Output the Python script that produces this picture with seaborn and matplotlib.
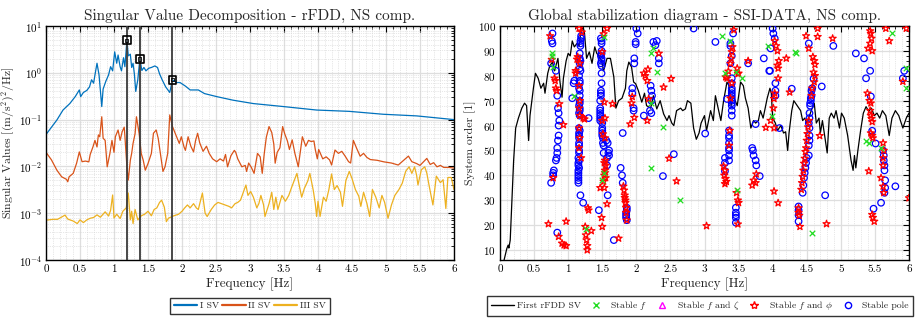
import numpy as np
import pandas as pd
import matplotlib
matplotlib.use("Agg")
import matplotlib.pyplot as plt
from matplotlib.lines import Line2D
from matplotlib.ticker import MultipleLocator, LogLocator, NullFormatter, FuncFormatter
import seaborn as sns

# ── Singular values (rFDD) ────────────────────────────────────────
sv1_f = [0.0, 0.16, 0.25, 0.35, 0.43, 0.49, 0.51, 0.55, 0.60, 0.64, 0.67, 0.70, 0.72, 0.75, 0.78,
         0.82, 0.84, 0.88, 0.92, 0.95, 0.98, 1.01, 1.04, 1.06, 1.09, 1.11, 1.14, 1.16, 1.19, 1.21,
         1.24, 1.26, 1.28, 1.30, 1.32, 1.35, 1.38, 1.41, 1.44, 1.47, 1.51, 1.55, 1.60, 1.64, 1.67,
         1.71, 1.76, 1.82, 1.86, 1.92, 1.97, 2.05, 2.12, 2.24, 2.33, 2.51, 2.75, 3.05, 3.49, 3.98,
         4.46, 4.96, 5.45, 6.0]
sv1_v = [0.048, 0.098, 0.16, 0.22, 0.31, 0.43, 0.31, 0.38, 0.42, 0.50, 0.71, 0.60, 0.9, 1.6, 0.9,
         0.19, 0.45, 0.66, 0.9, 1.35, 1.1, 2.8, 1.6, 2.4, 1.35, 1.1, 2.1, 1.35, 5.0, 2.3,
         2.5, 1.3, 1.6, 0.93, 0.40, 0.71, 1.97, 1.12, 1.3, 1.1, 1.25, 1.3, 1.4, 1.3, 0.95,
         0.7, 0.5, 0.38, 0.71, 0.62, 0.62, 0.52, 0.43, 0.43, 0.36, 0.31, 0.26, 0.22, 0.19, 0.16,
         0.15, 0.13, 0.12, 0.10]

sv2_f = [0.0, 0.08, 0.16, 0.23, 0.30, 0.32, 0.34, 0.40, 0.45, 0.49, 0.53, 0.58, 0.63, 0.65, 0.69,
         0.72, 0.75, 0.77, 0.79, 0.82, 0.84, 0.87, 0.90, 0.94, 0.97, 1.00, 1.02, 1.06, 1.09, 1.12,
         1.15, 1.16, 1.19, 1.21, 1.24, 1.26, 1.28, 1.31, 1.33, 1.37, 1.40, 1.43, 1.46, 1.50, 1.55,
         1.58, 1.62, 1.65, 1.68, 1.72, 1.75, 1.79, 1.82, 1.86, 1.91, 1.96, 1.99, 2.03, 2.05, 2.09,
         2.13, 2.17, 2.20, 2.23, 2.26, 2.31, 2.36, 2.40, 2.45, 2.51, 2.56, 2.61, 2.64, 2.67, 2.72,
         2.77, 2.79, 2.82, 2.88, 2.93, 2.95, 2.98, 3.02, 3.06, 3.11, 3.15, 3.18, 3.21, 3.24, 3.28,
         3.32, 3.35, 3.37, 3.40, 3.44, 3.48, 3.51, 3.55, 3.58, 3.62, 3.66, 3.71, 3.77, 3.82, 3.86,
         3.90, 3.94, 3.96, 3.99, 4.01, 4.07, 4.12, 4.17, 4.20, 4.25, 4.30, 4.35, 4.40, 4.45, 4.48,
         4.52, 4.57, 4.62, 4.67, 4.72, 4.77, 4.87, 4.97, 5.08, 5.18, 5.33, 5.38, 5.45, 5.50, 5.60,
         5.65, 5.70, 5.75, 5.80, 5.85, 5.93, 6.0]
sv2_v = [0.02, 0.0138, 0.0083, 0.006, 0.0053, 0.0047, 0.006, 0.0071, 0.0117, 0.0204, 0.0126, 0.013,
         0.0125, 0.018, 0.026, 0.036, 0.026, 0.047, 0.043, 0.115, 0.04, 0.036, 0.0098, 0.019, 0.036,
         0.02, 0.043, 0.06, 0.036, 0.055, 0.069, 0.045, 0.0098, 0.0051, 0.0135, 0.019, 0.031, 0.05,
         0.115, 0.05, 0.019, 0.0135, 0.0083, 0.0115, 0.019, 0.051, 0.06, 0.04, 0.02, 0.0078, 0.0098,
         0.019, 0.126, 0.071, 0.047, 0.031, 0.043, 0.026, 0.022, 0.043, 0.027, 0.0204, 0.036, 0.051,
         0.032, 0.021, 0.027, 0.019, 0.0145, 0.0126, 0.0145, 0.013, 0.018, 0.0098, 0.017, 0.022,
         0.02, 0.0145, 0.0098, 0.0105, 0.0078, 0.0118, 0.0095, 0.0071, 0.019, 0.016, 0.0071, 0.019,
         0.042, 0.071, 0.053, 0.03, 0.0117, 0.02, 0.025, 0.071, 0.05, 0.035, 0.023, 0.037, 0.019,
         0.0098, 0.043, 0.027, 0.036, 0.034, 0.035, 0.023, 0.0145, 0.023, 0.0145, 0.016, 0.0138,
         0.0107, 0.0224, 0.019, 0.021, 0.0165, 0.0126, 0.0118, 0.036, 0.024, 0.0165, 0.019, 0.0155,
         0.014, 0.0135, 0.0125, 0.0118, 0.0107, 0.0166, 0.0126, 0.0115, 0.0105, 0.0148, 0.011,
         0.012, 0.0098, 0.0105, 0.0095, 0.0095, 0.0092]

sv3_f = [0.0, 0.10, 0.17, 0.28, 0.32, 0.40, 0.46, 0.50, 0.55, 0.60, 0.65, 0.70, 0.75, 0.80, 0.87,
         0.92, 0.95, 0.98, 1.00, 1.04, 1.09, 1.13, 1.18, 1.21, 1.24, 1.26, 1.28, 1.31, 1.35, 1.40,
         1.45, 1.50, 1.55, 1.59, 1.63, 1.67, 1.70, 1.74, 1.77, 1.80, 1.87, 1.95, 2.00, 2.04, 2.08,
         2.12, 2.17, 2.21, 2.24, 2.30, 2.34, 2.37, 2.43, 2.48, 2.53, 2.58, 2.63, 2.69, 2.73, 2.78,
         2.82, 2.86, 2.94, 2.97, 3.01, 3.05, 3.10, 3.13, 3.16, 3.20, 3.22, 3.28, 3.32, 3.35, 3.38,
         3.41, 3.47, 3.52, 3.57, 3.61, 3.69, 3.72, 3.76, 3.80, 3.85, 3.88, 3.93, 3.96, 3.98, 4.00,
         4.03, 4.08, 4.12, 4.16, 4.20, 4.24, 4.28, 4.33, 4.36, 4.41, 4.46, 4.50, 4.55, 4.60, 4.63,
         4.67, 4.72, 4.76, 4.80, 4.85, 4.90, 4.94, 4.98, 5.03, 5.08, 5.13, 5.19, 5.24, 5.29, 5.34,
         5.38, 5.42, 5.45, 5.47, 5.52, 5.57, 5.60, 5.64, 5.69, 5.74, 5.80, 5.84, 5.88, 5.91, 5.96,
         6.0]
sv3_v = [0.00071, 0.00074, 0.00074, 0.00091, 0.00075, 0.00068, 0.0006, 0.00072, 0.00063, 0.00072,
         0.00078, 0.00081, 0.00092, 0.00082, 0.00107, 0.00087, 0.00115, 0.00245, 0.00079, 0.00095,
         0.00077, 0.0011, 0.0013, 0.0027, 0.00072, 0.0011, 0.0006, 0.0012, 0.00072, 0.00088,
         0.00095, 0.0011, 0.00088, 0.0012, 0.0013, 0.0017, 0.0019, 0.00135, 0.00066, 0.00078,
         0.00087, 0.00095, 0.0011, 0.0013, 0.0015, 0.0013, 0.0016, 0.0013, 0.0012, 0.0027, 0.001,
         0.00085, 0.0012, 0.0015, 0.0017, 0.0016, 0.0015, 0.0014, 0.0013, 0.0016, 0.0017, 0.0019,
         0.0040, 0.0024, 0.0029, 0.0022, 0.0013, 0.0016, 0.0024, 0.0015, 0.00085, 0.0016, 0.0028,
         0.0012, 0.0022, 0.0012, 0.0024, 0.0018, 0.0024, 0.0035, 0.0071, 0.0042, 0.0022, 0.0034,
         0.0049, 0.0071, 0.0031, 0.0016, 0.00085, 0.0018, 0.00085, 0.0022, 0.0018, 0.0032, 0.0069,
         0.0032, 0.0039, 0.0028, 0.0014, 0.005, 0.0078, 0.0055, 0.0032, 0.0023, 0.0014, 0.0028,
         0.0016, 0.00085, 0.0032, 0.0022, 0.0013, 0.0024, 0.0017, 0.00078, 0.0015, 0.0024, 0.0032,
         0.0044, 0.0079, 0.0098, 0.0071, 0.0098, 0.0065, 0.004, 0.0085, 0.0098, 0.0072, 0.0035,
         0.0015, 0.0062, 0.0045, 0.0052, 0.00126, 0.0058, 0.0058, 0.0032]

peak_f = [1.19, 1.38, 1.86]
peak_v = [5.0, 1.97, 0.71]

# ── Stabilization diagram (SSI-DATA) ──────────────────────────────
line_f = [0.03, 0.06, 0.10, 0.12, 0.13, 0.15, 0.17, 0.20, 0.23, 0.27, 0.32, 0.36, 0.39, 0.42, 0.44,
          0.49, 0.52, 0.56, 0.60, 0.64, 0.66, 0.70, 0.73, 0.77, 0.80, 0.85, 0.88, 0.91, 0.93, 0.97,
          1.00, 1.03, 1.06, 1.09, 1.13, 1.16, 1.19, 1.22, 1.24, 1.27, 1.31, 1.35, 1.39, 1.42, 1.45,
          1.49, 1.52, 1.57, 1.62, 1.67, 1.70, 1.74, 1.79, 1.84, 1.86, 1.89, 1.93, 1.96, 1.99, 2.03,
          2.08, 2.12, 2.15, 2.21, 2.25, 2.30, 2.35, 2.40, 2.45, 2.48, 2.52, 2.55, 2.59, 2.65, 2.68,
          2.72, 2.75, 2.80, 2.84, 2.88, 2.92, 2.95, 3.00, 3.03, 3.09, 3.13, 3.16, 3.20, 3.24, 3.28,
          3.33, 3.36, 3.39, 3.42, 3.48, 3.53, 3.57, 3.60, 3.64, 3.68, 3.72, 3.75, 3.79, 3.82, 3.86,
          3.92, 3.96, 3.98, 4.00, 4.04, 4.07, 4.12, 4.16, 4.19, 4.22, 4.24, 4.28, 4.31, 4.36, 4.41,
          4.44, 4.47, 4.50, 4.54, 4.58, 4.61, 4.64, 4.68, 4.70, 4.73, 4.80, 4.83, 4.86, 4.90, 4.93,
          4.98, 5.01, 5.05, 5.10, 5.15, 5.18, 5.20, 5.22, 5.25, 5.29, 5.33, 5.37, 5.41, 5.45, 5.49,
          5.53, 5.57, 5.61, 5.66, 5.71, 5.75, 5.80, 5.85, 5.91, 5.96, 6.0]
line_n = [3, 6, 10.6, 12, 10.8, 14, 27, 46, 59, 63, 67, 69, 68, 54, 64,
          75, 81, 79, 75, 77, 73, 81, 84, 85.5, 82, 87, 77.5, 71.4, 79, 86,
          89, 88, 94, 91.6, 93, 92, 98.4, 99.7, 97, 87, 89.6, 85, 91.6, 89, 88,
          86, 82, 87, 87, 79.5, 67, 70, 71, 75, 82, 85.5, 83.5, 77.5, 76.8, 74,
          69.4, 73, 68, 67, 72, 66.7, 70, 64.7, 62, 64, 61, 60, 66, 67, 66,
          66.7, 70, 69, 59, 54.5, 57, 61, 64, 58, 66, 62, 72, 67, 62, 70,
          77.5, 76, 68, 72, 68, 77.5, 76, 71, 67, 59, 62, 61, 62, 66, 63,
          71, 75, 73, 63, 61, 58, 60, 57, 57.5, 50, 57, 66, 70, 68, 66,
          62, 63, 61, 64, 67, 69, 61, 63, 57, 62, 49, 63, 65, 63, 66,
          59, 65, 63, 56, 46, 42, 48, 43, 50, 58, 65, 67.6, 65.7, 67, 64,
          65, 63, 66, 64, 56, 63, 66, 64, 59, 63, 65]

# stable f (green x)
sf_f = [0.76, 0.77, 0.78, 1.09, 1.52, 1.26, 1.50, 1.53, 2.22, 2.24, 2.31, 2.22, 2.39, 2.22, 2.64,
        3.26, 3.38, 3.46, 3.55, 3.30, 3.47, 3.93, 3.99, 4.33, 4.34, 4.57, 5.37, 5.42, 5.59, 5.75,
        5.96, 5.96]
sf_n = [89, 88, 83.5, 72, 95.7, 18.5, 38, 41, 89, 91, 81.5, 69, 59.5, 43, 30,
        96, 94, 81.5, 79, 81, 34, 92, 64, 89.5, 89, 17, 54, 53, 51, 97,
        83, 75]

# stable f and zeta (none found)
sfz_f = []
sfz_n = []

# stable f and phi (red stars)
sfp_f = [0.735, 0.76, 0.80, 0.81, 0.82, 0.83, 0.87, 0.93, 0.78, 0.71, 0.86, 0.91, 0.94, 0.97, 0.97,
         1.16, 1.20, 1.14, 1.13, 1.11, 1.11, 1.17, 1.16, 1.17, 1.16, 1.17, 1.16, 1.17, 1.16, 1.19,
         1.24, 1.22, 1.25, 1.26, 1.27, 1.28, 1.28, 1.29, 1.30, 1.34,
         1.57, 1.52, 1.50, 1.53, 1.54, 1.50, 1.51, 1.54, 1.54, 1.53, 1.55, 1.54, 1.54, 1.53, 1.55,
         1.52, 1.53, 1.47, 1.57, 1.49, 1.50, 1.65, 1.74,
         1.81, 1.82, 1.83, 1.83, 1.84, 1.84, 1.85, 1.85, 1.86, 1.91, 1.94, 1.93, 1.97,
         2.11, 2.13, 2.17, 2.16, 2.18, 2.16, 2.33, 2.40, 2.51, 2.48, 2.59, 3.03,
         3.43, 3.41, 3.40, 3.39, 3.38, 3.35, 3.33, 3.31, 3.48, 3.50, 3.49, 3.40, 3.38, 3.37, 3.36,
         3.28, 3.30, 3.29, 3.31, 3.30, 3.32, 3.47, 3.49, 3.50, 3.49, 3.64,
         3.76, 3.72, 3.70, 3.75, 3.90, 3.97, 4.02, 4.02, 4.01, 4.03, 4.07, 4.09, 4.08, 4.08, 4.03,
         4.05, 4.07, 4.20, 4.25, 4.08, 4.02,
         4.49, 4.66, 4.66, 4.53, 4.59, 4.62, 4.61, 4.60, 4.62, 4.61, 4.58, 4.57, 4.53, 4.52, 4.51,
         4.50, 4.49, 4.48, 4.47, 4.46, 4.45, 4.44, 4.43, 4.42, 4.38, 4.38, 4.39, 4.40, 4.69, 4.79,
         4.88,
         5.43, 5.44, 5.45, 5.43, 5.40, 5.46, 5.39, 5.42, 5.44, 5.43, 5.44, 5.45, 5.46, 5.44, 5.46,
         5.47, 5.41, 5.59, 5.62, 5.63, 5.62, 5.63, 5.62, 5.62, 5.46, 5.47, 5.49, 5.66, 5.71, 5.96,
         5.91, 6.0]
sfp_n = [96, 86.5, 79, 78, 75, 74, 68.7, 60.3, 39, 20.5, 15.4, 12.7, 12, 11.7, 21.5,
         99, 97.5, 87.6, 86.6, 82, 81, 85, 76, 70, 67, 64, 59, 55, 51, 47,
         62.6, 63, 19.4, 16, 14, 11.7, 10, 26.9, 26, 17.7,
         99, 96.8, 89.6, 69.4, 63, 62, 56.6, 55, 46, 45, 44, 42, 41, 40, 39,
         37.6, 35, 35, 28.5, 23, 19.4, 68.7, 14.7,
         35.6, 34, 32, 31, 30, 29, 27, 25, 22, 60.6, 71.6, 69, 63.2,
         81, 80, 82.6, 78, 70.7, 62, 89, 75.4, 78.8, 46.8, 37.7, 19.7,
         98.4, 91.6, 89.6, 87, 84.9, 81.8, 79, 79.5, 83, 81, 80.8, 77, 71, 58, 52,
         43.7, 42, 40, 38.7, 36.6, 37.5, 33, 30, 29, 20.4, 86,
         40.5, 38, 36, 37, 59.2, 62, 59, 70.8, 67, 73, 84.2, 86, 83, 79, 94,
         92, 90, 87, 73.4, 28.9, 33.6,
         96, 99, 95.7, 91, 87.6, 84.5, 86, 81.4, 80, 77.5, 75, 72, 62, 59.4, 56.7,
         54, 51, 49.5, 46.8, 44.8, 42, 39.5, 37, 34.3, 26.9, 25, 23.9, 19.4, 55.9, 20.5,
         95,
         98, 97, 95, 93, 91, 90, 73, 70, 69, 66, 64, 62.8, 61.5, 57, 56,
         55, 41.7, 39, 35.6, 33, 53, 50, 47, 44, 24.2, 23, 21.5, 99, 94, 99,
         77.7, 30.9]

# stable poles (blue circles)
pole_f = [0.77, 0.76, 0.77, 0.75, 0.82, 0.84, 0.85, 0.86, 0.87, 0.86, 0.86, 0.85, 0.84, 0.84, 0.83,
          0.82, 0.79, 0.78, 0.78, 0.75, 0.84,
          1.09, 1.08, 1.06,
          1.19, 1.19, 1.18, 1.18, 1.18, 1.17, 1.17, 1.18, 1.17, 1.17, 1.18, 1.16, 1.17, 1.17, 1.16,
          1.17, 1.17, 1.17, 1.17, 1.16, 1.17, 1.17, 1.16, 1.17, 1.16, 1.17, 1.16, 1.16, 1.16, 1.16,
          1.16, 1.16, 1.16, 1.15, 1.16, 1.15, 1.15, 1.16, 1.15, 1.15, 1.15, 1.15, 1.15, 1.15,
          1.18, 1.22, 1.30,
          1.48, 1.49, 1.49, 1.49, 1.49, 1.48, 1.49, 1.49, 1.48, 1.49, 1.49, 1.49, 1.48, 1.48, 1.48,
          1.47, 1.47, 1.47, 1.47, 1.47, 1.47, 1.47, 1.50, 1.50, 1.50, 1.50, 1.50, 1.51, 1.51, 1.52,
          1.52, 1.56, 1.58, 1.60, 1.59, 1.60, 1.57, 1.57, 1.58, 1.45, 1.67,
          1.77, 1.79, 1.80, 1.86, 1.86, 1.85, 1.85, 1.85, 1.86, 1.80,
          2.00, 2.02, 1.99, 1.99, 1.97, 1.97, 1.94, 1.94, 1.96, 1.96, 2.11, 2.25, 2.28, 2.30, 2.33,
          2.33, 2.21, 2.22, 2.23, 2.22, 2.20, 2.22, 2.55, 2.39, 2.84, 3.16, 3.01,
          3.42, 3.38, 3.38, 3.40, 3.38, 3.40, 3.40, 3.40, 3.40, 3.40, 3.40, 3.40, 3.40, 3.40, 3.40,
          3.40, 3.40, 3.33, 3.36, 3.36, 3.36, 3.36, 3.36, 3.36, 3.36, 3.36, 3.30, 3.30, 3.30,
          3.46, 3.46, 3.46, 3.46, 3.46,
          3.64, 3.75, 3.70, 3.71, 3.72, 3.75, 3.76, 3.81, 3.87, 3.95,
          4.00, 4.01, 4.03, 3.97, 3.96, 4.04, 4.04, 4.04, 4.10, 4.28,
          4.53, 4.60, 4.58, 4.57, 4.57, 4.56, 4.56, 4.55, 4.55, 4.54, 4.54, 4.53, 4.54, 4.54, 4.54,
          4.53, 4.53, 4.50, 4.49, 4.48, 4.47, 4.46, 4.45, 4.44, 4.38, 4.38, 4.38, 4.38, 4.77, 4.72,
          4.89,
          5.22, 5.34, 5.43, 5.37, 5.44, 5.46, 5.51, 5.62, 5.63, 5.63, 5.64, 5.64, 5.65, 5.65, 5.64,
          5.59, 5.48, 5.80, 5.91, 5.93]
pole_n = [97, 94, 93, 85, 82, 72, 67, 65, 62, 60, 56, 54, 51, 49, 47,
          46, 42, 41, 40, 37, 17,
          78, 77, 71,
          96, 95, 94, 93, 92, 89, 87, 86, 85, 83, 82, 80, 78, 77, 75,
          74, 72, 70, 69, 68, 67, 66, 65, 64, 59, 58, 57, 56, 55, 53,
          52, 50, 49, 47, 46, 45, 44, 43, 42, 41, 40, 39, 38, 37,
          32, 29, 63,
          95, 94, 93, 90, 89, 88, 87, 86, 85, 84, 81, 77, 74, 73, 72,
          70, 67, 66, 65, 64, 63, 62, 61, 59, 58, 57, 56, 55, 53, 52,
          49, 54, 53, 50, 49, 48, 47, 44, 32, 26, 14,
          43, 40, 37, 27, 26, 25, 24, 23, 22, 57,
          99, 97, 93.6, 92.7, 87, 85, 75, 73, 67, 66, 64, 93.6, 92.3, 94, 87,
          85, 76, 74, 72, 70, 66, 65, 48.5, 39.7, 99, 93.6, 56.8,
          97, 93, 92, 88, 85, 79, 77, 75, 74, 73, 72, 71, 70, 69, 68,
          66, 64, 70.7, 58, 56, 55, 53, 51, 50, 48, 46, 47, 45, 41.7,
          27, 25, 24, 23, 21,
          85, 60.6, 51, 50, 48, 46, 44, 39.7, 87, 82,
          99, 97, 95, 91, 82, 77, 74, 72, 59, 74.8,
          93, 78.8, 75, 74, 72, 71, 70, 69, 68, 65, 63, 61, 59, 56, 54,
          52, 48, 47, 45, 43, 41, 39, 36, 33, 27.5, 26, 24, 21.5, 32, 75.7,
          92,
          89, 87, 82, 79, 71.7, 57.9, 52.8, 50, 48, 46, 44, 42, 38, 35, 33,
          29, 26.6, 35.6, 79, 82]

blue = "#0072BD"
orange = "#D95319"
yellow = "#EDB120"

# ── Style ─────────────────────────────────────────────────────────
sns.set_style("white")
plt.rcParams["font.family"] = ["cmr10", "DejaVu Serif"]
plt.rcParams["mathtext.fontset"] = "cm"
plt.rcParams["axes.formatter.use_mathtext"] = True
plt.rcParams["axes.unicode_minus"] = False
plt.rcParams["xtick.direction"] = "in"
plt.rcParams["ytick.direction"] = "in"

fig = plt.figure(figsize=(9.16, 3.2), dpi=100)
ax1 = fig.add_axes([46 / 916, 1 - 260 / 320, 408 / 916, 234 / 320])
ax2 = fig.add_axes([500 / 916, 1 - 260 / 320, 409 / 916, 234 / 320])

hz_fmt = FuncFormatter(lambda v, _: f"{v:g}")


def style_axes(ax):
    ax.grid(True, which="major", color="#dedede", linewidth=0.9, linestyle="-")
    ax.grid(True, which="minor", color="#d0d0d0", linewidth=0.5, linestyle=":")
    ax.set_axisbelow(True)
    for sp in ax.spines.values():
        sp.set_color("black")
        sp.set_linewidth(1.0)
    ax.tick_params(which="both", top=True, right=True, labelsize=8, colors="black", pad=3)
    ax.tick_params(which="major", length=4, width=0.8)
    ax.tick_params(which="minor", length=2, width=0.6)


leg_kw = dict(loc="center", fontsize=7, frameon=True, fancybox=False, edgecolor="black",
              handlelength=2.4, handletextpad=0.3, columnspacing=0.3, borderpad=0.4)

# ── 1. Singular values ────────────────────────────────────────────
for fv, vv, col in [(sv1_f, sv1_v, blue), (sv2_f, sv2_v, orange), (sv3_f, sv3_v, yellow)]:
    sns.lineplot(x=fv, y=vv, ax=ax1, color=col, linewidth=0.9, estimator=None, sort=False)
ax1.set_yscale("log")
for pf in peak_f:
    ax1.axvline(pf, color="#3a3a3a", linewidth=1.3, zorder=3)
sns.scatterplot(x=peak_f, y=peak_v, ax=ax1, marker="s", s=30, facecolor="none",
                edgecolor="black", linewidth=1.2, zorder=5)
sns.scatterplot(x=peak_f, y=peak_v, ax=ax1, marker="s", s=5, facecolor="none",
                edgecolor="black", linewidth=0.6, zorder=5)
ax1.set_xlim(0, 6)
ax1.set_ylim(1e-4, 10)
ax1.xaxis.set_major_locator(MultipleLocator(0.5))
ax1.xaxis.set_minor_locator(MultipleLocator(0.1))
ax1.xaxis.set_major_formatter(hz_fmt)
ax1.yaxis.set_major_locator(LogLocator(base=10, numticks=10))
ax1.yaxis.set_minor_locator(LogLocator(base=10, subs=np.arange(2, 10), numticks=50))
ax1.yaxis.set_minor_formatter(NullFormatter())
style_axes(ax1)
ax1.set_title("Singular Value Decomposition - rFDD, NS comp.", fontsize=11, pad=4)
ax1.set_xlabel("Frequency [Hz]", fontsize=9.5, labelpad=3)
ax1.set_ylabel(r"Singular Values [(m/s$^2$)$^2$/Hz]", fontsize=8.5, labelpad=1)

h1 = [Line2D([], [], color=c, linewidth=1.6) for c in (blue, orange, yellow)]
fig.legend(h1, ["I SV", "II SV", "III SV"], bbox_to_anchor=(250 / 916, 1 - 306 / 320),
           ncol=3, **leg_kw)

# ── 2. Stabilization diagram ──────────────────────────────────────
sns.lineplot(x=line_f, y=line_n, ax=ax2, color="black", linewidth=0.9, estimator=None, sort=False)
sns.scatterplot(x=pole_f, y=pole_n, ax=ax2, marker="o", s=22, facecolor="none",
                edgecolor="blue", linewidth=0.9, zorder=3)
sns.scatterplot(x=sfp_f, y=sfp_n, ax=ax2, marker="*", s=28, facecolor="none",
                edgecolor="red", linewidth=0.9, zorder=4)
sns.scatterplot(x=sf_f, y=sf_n, ax=ax2, marker="x", s=16, color="#22dd22",
                linewidth=0.9, zorder=5)
if sfz_f:
    sns.scatterplot(x=sfz_f, y=sfz_n, ax=ax2, marker="^", s=22, facecolor="none",
                    edgecolor="magenta", linewidth=0.9)
ax2.set_xlim(0, 6)
ax2.set_ylim(6, 100)
ax2.xaxis.set_major_locator(MultipleLocator(0.5))
ax2.xaxis.set_minor_locator(MultipleLocator(0.1))
ax2.xaxis.set_major_formatter(hz_fmt)
ax2.yaxis.set_major_locator(MultipleLocator(10))
ax2.yaxis.set_minor_locator(MultipleLocator(2))
style_axes(ax2)
ax2.grid(False, which="minor", axis="y")
ax2.set_title("Global stabilization diagram - SSI-DATA, NS comp.", fontsize=11, pad=4)
ax2.set_xlabel("Frequency [Hz]", fontsize=9.5, labelpad=3)
ax2.set_ylabel("System order [1]", fontsize=8.5, labelpad=1)

h2 = [Line2D([], [], color="black", linewidth=1.0),
      Line2D([], [], color="#22dd22", marker="x", linestyle="none", markersize=4.5),
      Line2D([], [], color="magenta", marker="^", linestyle="none", markersize=4.5, markerfacecolor="none"),
      Line2D([], [], color="red", marker="*", linestyle="none", markersize=6, markerfacecolor="none"),
      Line2D([], [], color="blue", marker="o", linestyle="none", markersize=4.5, markerfacecolor="none")]
l2 = ["First rFDD SV", r"Stable $f$", r"Stable $f$ and $\zeta$", r"Stable $f$ and $\phi$", "Stable pole"]
fig.legend(h2, l2, bbox_to_anchor=(700 / 916, 1 - 306 / 320), ncol=5, **leg_kw)

fig.savefig("out.png", dpi=100, facecolor="white")
